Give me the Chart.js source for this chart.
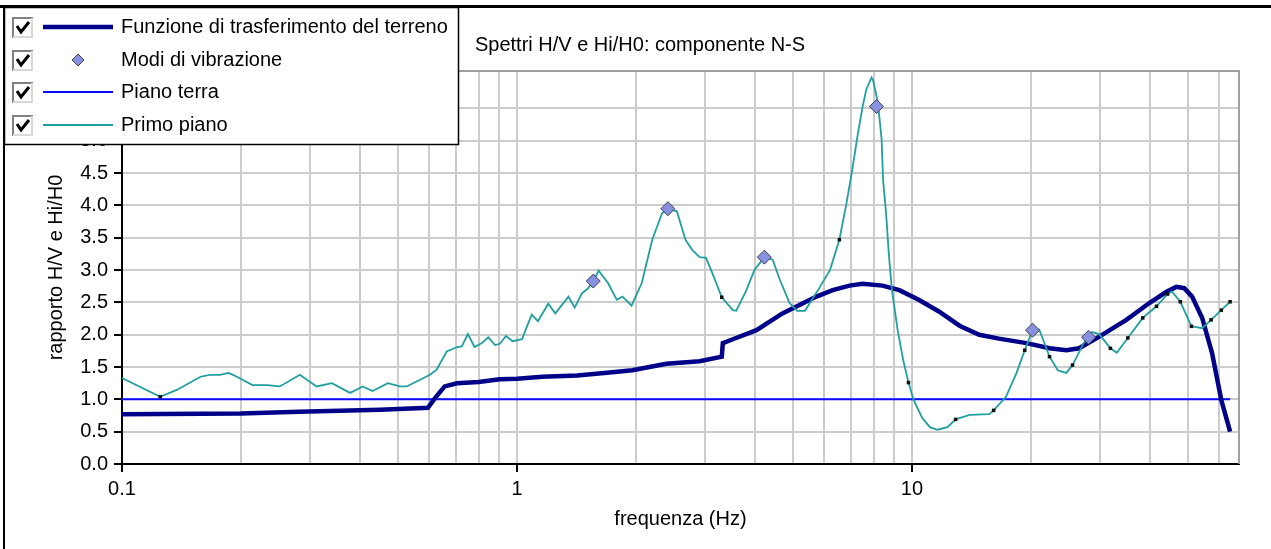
<!DOCTYPE html>
<html>
<head>
<meta charset="utf-8">
<script src="https://cdn.jsdelivr.net/npm/chart.js@4/dist/chart.umd.min.js"></script>
<style>
  html, body { margin: 0; padding: 0; background: #fff; }
  canvas { display: block; }
</style>
</head>
<body>
<canvas id="hvChart" width="1271" height="549"></canvas>
<script>
// Funzione di trasferimento del terreno
const freqTransfer = [0.1, 0.2, 0.28, 0.45, 0.595, 0.62, 0.656, 0.705, 0.8, 0.905, 1.0, 1.16, 1.42, 1.69, 1.96,
  2.39, 2.9, 3.3, 3.32, 3.52, 4.04, 4.7, 5.19, 5.73, 6.3, 6.95, 7.5, 8.42, 9.29, 10.4, 11.7, 13.2, 14.8,
  16.6, 19.5, 22.3, 24.6, 26.5, 29.8, 34.9, 39.9, 44.0, 46.7, 48.9, 51.2, 54.3, 57.5, 60.7, 63.9];
const transfer = [0.77, 0.78, 0.81, 0.84, 0.87, 1.02, 1.2, 1.25, 1.27, 1.31, 1.32, 1.35, 1.37, 1.41, 1.45,
  1.55, 1.59, 1.66, 1.87, 1.93, 2.07, 2.33, 2.46, 2.59, 2.69, 2.76, 2.79, 2.76, 2.69, 2.54, 2.36, 2.14, 2.0,
  1.94, 1.87, 1.79, 1.76, 1.79, 1.97, 2.23, 2.49, 2.66, 2.74, 2.72, 2.59, 2.26, 1.72, 0.99, 0.5];

// Modi di vibrazione
const freqModes = [1.56, 2.41, 4.23, 8.13, 20.2, 28.0];
const modes = [2.83, 3.95, 3.20, 5.53, 2.07, 1.96];

// Piano terra
const freqGround = [0.1, 63.9];
const ground = [1.0, 1.0];

// Primo piano
const freqFirst = [0.1, 0.125, 0.138, 0.158, 0.167, 0.177, 0.186, 0.191, 0.214, 0.233, 0.251, 0.282, 0.311,
  0.34, 0.378, 0.407, 0.431, 0.471, 0.505, 0.526, 0.602, 0.626, 0.664, 0.705, 0.725, 0.751, 0.781, 0.815,
  0.846, 0.88, 0.905, 0.938, 0.975, 1.03, 1.06, 1.09, 1.13, 1.2, 1.25, 1.35, 1.4, 1.46, 1.51, 1.56, 1.61,
  1.7, 1.79, 1.85, 1.95, 2.07, 2.2, 2.33, 2.41, 2.54, 2.67, 2.78, 2.9, 3.01, 3.12, 3.3, 3.52, 3.59, 3.81,
  3.99, 4.23, 4.44, 4.63, 4.9, 5.12, 5.36, 5.85, 6.2, 6.55, 6.83, 7.06, 7.3, 7.5, 7.66, 7.9, 7.97, 8.2,
  8.38, 8.45, 8.6, 8.75, 8.9, 9.2, 9.5, 9.8, 10.1, 10.6, 11.1, 11.6, 12.3, 12.9, 14.0, 15.7, 16.1, 17.3,
  18.4, 19.3, 20.2, 21.0, 22.3, 23.4, 24.6, 25.5, 27.2, 28.6, 29.8, 31.8, 33.0, 35.2, 38.4, 41.6, 44.4,
  45.5, 47.8, 51.0, 54.3, 57.2, 60.7, 63.9];
const firstFloor = [1.33, 1.04, 1.15, 1.35, 1.38, 1.38, 1.41, 1.38, 1.22, 1.22, 1.2, 1.38, 1.2,
  1.25, 1.1, 1.2, 1.13, 1.25, 1.2, 1.2, 1.38, 1.46, 1.74, 1.81, 1.82, 2.01, 1.81, 1.87,
  1.96, 1.84, 1.86, 1.98, 1.9, 1.93, 2.13, 2.31, 2.21, 2.48, 2.33, 2.59, 2.42, 2.64, 2.71, 2.83, 2.99,
  2.8, 2.54, 2.59, 2.45, 2.8, 3.47, 3.88, 3.95, 3.91, 3.47, 3.31, 3.2, 3.19, 2.96, 2.58, 2.38, 2.37, 2.69,
  3.0, 3.2, 3.16, 2.85, 2.49, 2.37, 2.37, 2.74, 3.0, 3.47, 4.04, 4.55, 5.12, 5.53, 5.79, 5.98, 5.94, 5.59,
  5.02, 4.4, 3.88, 3.2, 2.69, 2.07, 1.61, 1.26, 0.99, 0.72, 0.57, 0.53, 0.57, 0.69, 0.76, 0.77, 0.83, 1.04,
  1.41, 1.76, 2.08, 2.08, 1.66, 1.45, 1.41, 1.53, 1.87, 2.04, 2.01, 1.79, 1.72, 1.95, 2.26, 2.44, 2.63,
  2.67, 2.51, 2.13, 2.1, 2.23, 2.38, 2.51];

// small black sample dots on the Primo piano curve
const freqDots = [0.125, 3.3, 6.55, 9.8, 12.9, 16.1, 19.3, 22.3, 25.5, 31.8, 35.2, 38.4, 41.6, 44.4, 47.8, 51.0, 57.2, 60.7, 63.9];
const dots = [1.04, 2.58, 3.47, 1.26, 0.69, 0.83, 1.76, 1.66, 1.53, 1.79, 1.95, 2.26, 2.44, 2.63, 2.51, 2.13, 2.23, 2.38, 2.51];

const xLabelValues = [0.1, 1, 10];
const xLabels = ['0.1', '1', '10'];

const FONT = "'Liberation Sans', Arial, sans-serif";
Chart.defaults.font.family = FONT;
Chart.defaults.font.size = 20;
Chart.defaults.color = '#000';

function toPoints(xs, ys) {
    return xs.map((x, i) => ({ x: x, y: ys[i] }));
}

function isDecade(v) {
    return xLabelValues.some(d => Math.abs(v - d) < d * 1e-6);
}

// legend, title and frame drawn on top of the chart
const framePlugin = {
    id: 'frame',
    beforeDatasetsDraw(chart) {
        const { ctx, chartArea: a } = chart;
        ctx.save();
        ctx.strokeStyle = '#a0a0a0';
        ctx.lineWidth = 2;
        ctx.beginPath();
        ctx.moveTo(a.left, a.top);
        ctx.lineTo(a.right, a.top);
        ctx.lineTo(a.right, a.bottom);
        ctx.stroke();
        ctx.restore();
    },
    afterDraw(chart) {
        const ctx = chart.ctx;
        ctx.save();

        // title
        ctx.fillStyle = '#000';
        ctx.font = '20px ' + FONT;
        ctx.textAlign = 'center';
        ctx.textBaseline = 'middle';
        ctx.fillText('Spettri H/V e Hi/H0: componente N-S', 640, 45);

        // outer frame
        ctx.fillStyle = '#000';
        ctx.fillRect(0, 5, chart.width, 3);
        ctx.fillRect(3, 5, 2, chart.height - 5);

        // legend box
        ctx.fillStyle = '#fff';
        ctx.fillRect(5, 8, 453, 136);
        ctx.strokeStyle = '#000';
        ctx.lineWidth = 1.5;
        ctx.strokeRect(4.5, 7.5, 454, 137);

        const rows = [27, 60, 92, 125];
        const sets = chart.data.datasets.filter(d => !d.hideInLegend);
        sets.forEach((ds, i) => {
            const cy = rows[i];
            // checkbox
            const bx = 12, by = cy - 10;
            ctx.fillStyle = '#fff';
            ctx.fillRect(bx, by, 21, 21);
            ctx.lineWidth = 2;
            ctx.strokeStyle = '#808080';
            ctx.beginPath();
            ctx.moveTo(bx + 1, by + 21);
            ctx.lineTo(bx + 1, by + 1);
            ctx.lineTo(bx + 21, by + 1);
            ctx.stroke();
            ctx.strokeStyle = '#d8d8d8';
            ctx.beginPath();
            ctx.moveTo(bx + 1, by + 20);
            ctx.lineTo(bx + 20, by + 20);
            ctx.lineTo(bx + 20, by + 1);
            ctx.stroke();
            ctx.strokeStyle = '#000';
            ctx.lineWidth = 3;
            ctx.beginPath();
            ctx.moveTo(bx + 5, by + 9);
            ctx.lineTo(bx + 9, by + 15);
            ctx.lineTo(bx + 17, by + 5);
            ctx.stroke();

            // sample
            if (ds.showLine === false) {
                ctx.fillStyle = ds.pointBackgroundColor;
                ctx.strokeStyle = ds.pointBorderColor;
                ctx.lineWidth = 1;
                ctx.beginPath();
                ctx.moveTo(78, cy - 6);
                ctx.lineTo(84, cy);
                ctx.lineTo(78, cy + 6);
                ctx.lineTo(72, cy);
                ctx.closePath();
                ctx.fill();
                ctx.stroke();
            } else {
                ctx.strokeStyle = ds.borderColor;
                ctx.lineWidth = ds.borderWidth;
                ctx.beginPath();
                ctx.moveTo(43, cy);
                ctx.lineTo(113, cy);
                ctx.stroke();
            }

            // label
            ctx.fillStyle = '#000';
            ctx.font = '20px ' + FONT;
            ctx.textAlign = 'left';
            ctx.textBaseline = 'middle';
            ctx.fillText(ds.label, 121, cy);
        });
        ctx.restore();
    }
};

const ctx = document.getElementById('hvChart').getContext('2d');
new Chart(ctx, {
    type: 'line',
    data: {
        datasets: [
            {
                label: 'Funzione di trasferimento del terreno',
                data: toPoints(freqTransfer, transfer),
                borderColor: '#000088',
                borderWidth: 4.5,
                pointRadius: 0,
                tension: 0,
                order: 3
            },
            {
                label: 'Modi di vibrazione',
                data: toPoints(freqModes, modes),
                showLine: false,
                pointStyle: 'rectRot',
                pointRadius: 7,
                pointBackgroundColor: '#8890e0',
                pointBorderColor: '#404050',
                pointBorderWidth: 1,
                order: 0
            },
            {
                label: 'Piano terra',
                data: toPoints(freqGround, ground),
                borderColor: '#0a0aff',
                borderWidth: 2,
                pointRadius: 0,
                order: 4
            },
            {
                label: 'Primo piano',
                data: toPoints(freqFirst, firstFloor),
                borderColor: '#1f9f9f',
                borderWidth: 1.8,
                pointRadius: 0,
                tension: 0,
                order: 2
            },
            {
                label: '',
                hideInLegend: true,
                data: toPoints(freqDots, dots),
                showLine: false,
                pointStyle: 'rect',
                pointRadius: 2.5,
                pointBackgroundColor: '#111',
                pointBorderWidth: 0,
                order: 1
            }
        ]
    },
    options: {
        responsive: false,
        animation: false,
        layout: { padding: { top: 71, right: 32, left: 0, bottom: 0 } },
        plugins: {
            legend: { display: false },
            title: { display: false },
            tooltip: { enabled: false }
        },
        scales: {
            x: {
                type: 'logarithmic',
                min: 0.1,
                max: 67.3,
                afterBuildTicks: axis => {
                    axis.ticks = axis.ticks.filter(t => {
                        const m = t.value / Math.pow(10, Math.floor(Math.log10(t.value) + 1e-9));
                        return Math.abs(m - Math.round(m)) < 1e-6 && t.value < 67;
                    });
                },
                afterFit: axis => { axis.height = 85; },
                grid: {
                    color: '#cccccc',
                    lineWidth: 2,
                    tickLength: 8,
                    tickColor: c => (c.tick && isDecade(c.tick.value)) ? '#000' : 'rgba(0,0,0,0)'
                },
                border: { color: '#000', width: 2 },
                ticks: {
                    autoSkip: false,
                    maxRotation: 0,
                    padding: 5,
                    callback: v => {
                        const i = xLabelValues.findIndex(d => Math.abs(v - d) < d * 1e-6);
                        return i >= 0 ? xLabels[i] : '';
                    }
                },
                title: { display: true, text: 'frequenza (Hz)', padding: { bottom: 18 } }
            },
            y: {
                min: 0,
                max: 6.08,
                afterBuildTicks: axis => {
                    axis.ticks = axis.ticks.filter(t => t.value <= 6.0001);
                },
                afterFit: axis => { axis.width = 122; },
                grid: { color: '#cccccc', lineWidth: 2, tickLength: 8, tickColor: '#000' },
                border: { color: '#000', width: 2 },
                ticks: { stepSize: 0.5, padding: 6, callback: v => v.toFixed(1) },
                title: { display: true, text: 'rapporto H/V e Hi/H0', padding: { top: 44 } }
            }
        }
    },
    plugins: [framePlugin]
});
</script>
</body>
</html>
